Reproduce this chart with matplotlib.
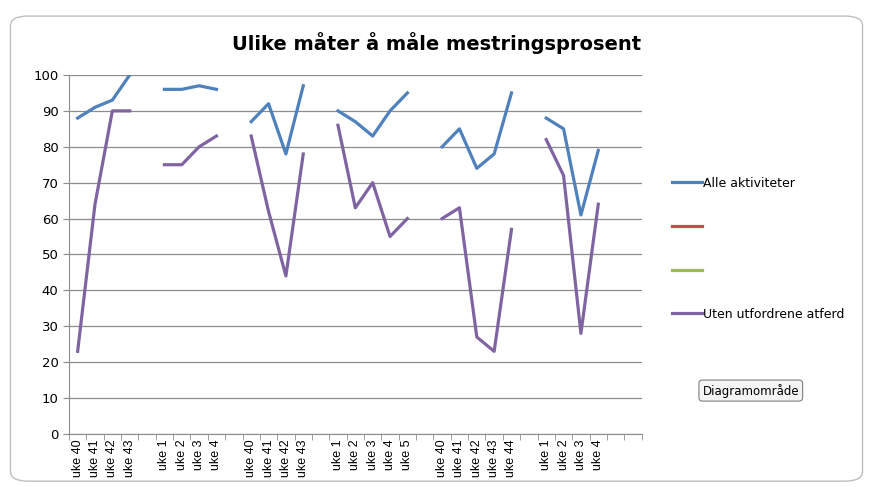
import numpy as np
import matplotlib
matplotlib.use("Agg")
import matplotlib.pyplot as plt
from matplotlib.lines import Line2D
from matplotlib.patches import FancyBboxPatch

plt.rcParams['font.family'] = ['DejaVu Sans']

nan = np.nan

# kategorier (tomme = mellomrom mellom periodene)
kategorier = ['uke 40', 'uke 41', 'uke 42', 'uke 43', '',
              'uke 1', 'uke 2', 'uke 3', 'uke 4', '',
              'uke 40', 'uke 41', 'uke 42', 'uke 43', '',
              'uke 1', 'uke 2', 'uke 3', 'uke 4', 'uke 5', '',
              'uke 40', 'uke 41', 'uke 42', 'uke 43', 'uke 44', '',
              'uke 1', 'uke 2', 'uke 3', 'uke 4', '', '']

alle_aktiviteter = [88, 91, 93, 100, nan,
                    96, 96, 97, 96, nan,
                    87, 92, 78, 97, nan,
                    90, 87, 83, 90, 95, nan,
                    80, 85, 74, 78, 95, nan,
                    88, 85, 61, 79, nan, nan]

uten_utfordrende = [23, 64, 90, 90, nan,
                    75, 75, 80, 83, nan,
                    83, 62, 44, 78, nan,
                    86, 63, 70, 55, 60, nan,
                    60, 63, 27, 23, 57, nan,
                    82, 72, 28, 64, nan, nan]

serie_navn = ['Alle aktiviteter', '', '', 'Uten utfordrene atferd']
farger = ['#4F81BD', '#C0504D', '#9BBB59', '#8064A2']

fig = plt.figure(figsize=(8.73, 4.87), dpi=100)

# rammen rundt diagramomraadet
ramme = FancyBboxPatch((0.012, 0.012), 0.976, 0.955,
                       boxstyle="round,pad=0,rounding_size=0.02",
                       transform=fig.transFigure, facecolor='none',
                       edgecolor='#BFBFBF', linewidth=1.0, zorder=-1)
fig.patches.append(ramme)

ax = fig.add_axes([0.079, 0.109, 0.656, 0.737])
x = np.arange(len(kategorier))

ax.plot(x, alle_aktiviteter, color=farger[0], linewidth=2.3)
ax.plot(x, uten_utfordrende, color=farger[3], linewidth=2.3)

ax.set_xlim(-0.5, len(kategorier) - 0.5)
ax.set_ylim(0, 100)
ax.set_yticks(range(0, 101, 10))
ax.yaxis.grid(True, color='#8C8C8C', linewidth=0.9)
ax.set_axisbelow(True)

ax.set_xticks(x)
ax.set_xticklabels(kategorier, rotation=90, fontsize=9,
                   family='Liberation Sans')
ax.set_xticks(np.arange(-0.5, len(kategorier), 1), minor=True)
ax.tick_params(axis='x', which='major', length=0, pad=4)
ax.tick_params(axis='x', which='minor', length=4, color='#8C8C8C')
ax.tick_params(axis='y', labelsize=9.5, length=4, color='#8C8C8C')

for s in ['top', 'right']:
    ax.spines[s].set_visible(False)
ax.spines['left'].set_color('#8C8C8C')
ax.spines['bottom'].set_color('#8C8C8C')

fig.suptitle('Ulike måter å måle mestringsprosent', x=0.5, y=0.935,
             fontsize=14, fontweight='bold')

handles = [Line2D([0], [0], color=c, linewidth=2.3) for c in farger]
fig.legend(handles, serie_navn, loc='upper left',
           bbox_to_anchor=(0.757, 0.66), frameon=False, fontsize=9,
           handlelength=2.4, handletextpad=0.1, labelspacing=2.45)

fig.text(0.86, 0.198, 'Diagramområde', ha='center', va='center',
         fontsize=8.5,
         bbox=dict(boxstyle='round,pad=0.3', facecolor='#F4F4F4',
                   edgecolor='#7F7F7F', linewidth=0.8))

plt.savefig('out.png', dpi=100)
